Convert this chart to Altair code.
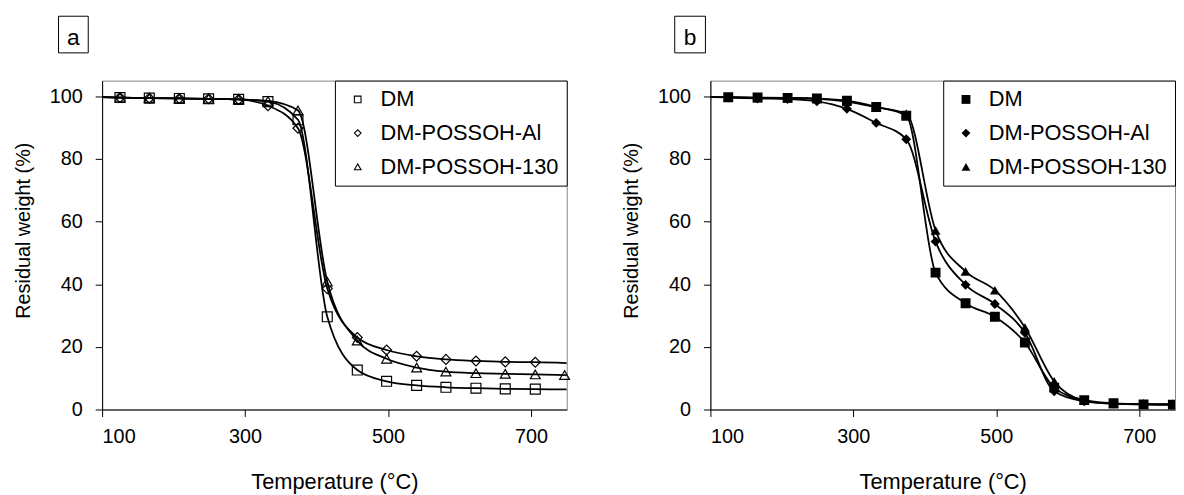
import altair as alt
import pandas as pd

# ---------------- data ----------------
series = ["DM", "DM-POSSOH-Al", "DM-POSSOH-130"]
temps = [125, 166, 208, 249, 291, 332, 374, 415, 457, 498, 540, 581, 623, 664, 706, 747]

# panel a (hollow markers)
a_dm = [99.6, 99.4, 99.3, 99.2, 99.0, 98.3, 92.5, 29.6, 12.6, 9.0, 7.7, 7.1, 6.8, 6.6, 6.5]
a_al = [99.6, 99.4, 99.3, 99.2, 99.0, 97.0, 89.8, 38.6, 23.0, 19.0, 17.0, 16.0, 15.5, 15.2, 15.1]
a_130 = [99.6, 99.4, 99.3, 99.2, 99.0, 98.5, 95.5, 40.8, 22.0, 16.2, 13.4, 12.1, 11.6, 11.4, 11.2, 11.0]
a_line_start = [99.7, 99.7, 99.7]   # curve value at the left edge (100 °C)
a_line_end = [6.4, 14.8, 10.9]      # curve value at the right edge (750 °C)

# panel b (filled markers)
b_dm = [99.7, 99.6, 99.5, 99.3, 98.6, 96.6, 93.8, 43.7, 33.9, 29.6, 21.4, 7.0, 3.0, 2.0, 1.6, 1.5]
b_al = [99.6, 99.3, 99.1, 98.4, 96.0, 91.5, 86.3, 53.6, 39.8, 33.7, 24.5, 5.8, 2.6, 1.9, 1.7, 1.6]
b_130 = [99.7, 99.5, 99.4, 99.2, 98.3, 96.5, 94.5, 57.2, 44.1, 38.1, 26.2, 9.0, 2.8, 1.8, 1.7, 1.7]
b_line_start = [99.8, 99.7, 99.8]
b_line_end = [1.5, 1.6, 1.7]

x_ticks = [100, 300, 500, 700]
y_ticks = [0, 20, 40, 60, 80, 100]
panel_labels = ["a", "b"]


def frames(values, starts, ends):
    pts, line = [], []
    for s, vals, v0, v1 in zip(series, values, starts, ends):
        line.append({"S": s, "T": 100, "W": v0})
        for t, v in zip(temps, vals):
            pts.append({"S": s, "T": t, "W": v})
            line.append({"S": s, "T": t, "W": v})
        line.append({"S": s, "T": 750, "W": v1})
    return pd.DataFrame(pts), pd.DataFrame(line)


FONT = "Liberation Sans"


def panel(values, starts, ends, label, box, filled, sym_size, pts_clip):
    pts, line = frames(values, starts, ends)
    x = alt.X("T:Q", scale=alt.Scale(domain=[100, 750], nice=False, zero=False),
              axis=alt.Axis(values=x_ticks, title="Temperature (°C)", format="d"))
    y = alt.Y("W:Q", scale=alt.Scale(domain=[0, 105], nice=False),
              axis=alt.Axis(values=y_ticks, title="Residual weight (%)", format="d", titleY=151))
    lines = alt.Chart(line).mark_line(
        color="black", strokeWidth=1.8, interpolate="monotone", clip=True
    ).encode(x=x, y=y, detail="S:N")
    points = alt.Chart(pts).mark_point(
        filled=filled, color="black", size=100, strokeWidth=1.2, opacity=1, clip=pts_clip
    ).encode(
        x=x, y=y,
        shape=alt.Shape("S:N", scale=alt.Scale(domain=series, range=["square", "diamond", "triangle-up"]),
                        legend=alt.Legend(title=None, orient="top-right", offset=0,
                                          strokeColor="black", fillColor="white",
                                          padding=8, rowPadding=12, labelOffset=12,
                                          symbolOffset=4, labelLimit=400,
                                          symbolSize=sym_size, symbolStrokeWidth=1.1,
                                          labelFontSize=22, labelFont=FONT, labelColor="black",
                                          symbolStrokeColor="black",
                                          symbolFillColor="black" if filled else "transparent"))
    )
    lab = pd.DataFrame({"L": [label]})
    rect = alt.Chart(lab).mark_rect(fill="white", stroke="black", strokeWidth=1).encode(
        x=alt.value(box[0]), x2=alt.value(box[1]), y=alt.value(-65), y2=alt.value(-28))
    txt = alt.Chart(lab).mark_text(fontSize=23, font=FONT, color="black", align="center",
                                   baseline="alphabetic").encode(
        x=alt.value((box[0] + box[1]) / 2), y=alt.value(-36), text="L:N")
    return alt.layer(lines, points, rect, txt).properties(width=469, height=332)


pa = panel([a_dm, a_al, a_130], a_line_start, a_line_end, panel_labels[0], (-44, -14), False, 45, False)
pb = panel([b_dm, b_al, b_130], b_line_start, b_line_end, panel_labels[1], (-36, -5), True, 80, True)

chart = alt.hconcat(pa, pb, spacing=49).resolve_scale(
    shape="independent", x="independent", y="independent"
).resolve_legend(shape="independent").properties(
    padding={"left": 5, "top": 5, "right": 0, "bottom": 0}
).configure_view(stroke="#868686", strokeWidth=1).configure_axis(
    grid=False, domainColor="black", tickColor="black", tickSize=7, tickWidth=1,
    labelFont=FONT, labelFontSize=20, labelColor="black",
    titleFont=FONT, titleFontWeight="normal", titleColor="black",
).configure_axisY(titlePadding=16, labelPadding=13, titleFontSize=20).configure_axisX(
    titlePadding=26, labelPadding=10, titleFontSize=22)

chart.save("out.html", embed_options={"renderer": "svg", "actions": False})
